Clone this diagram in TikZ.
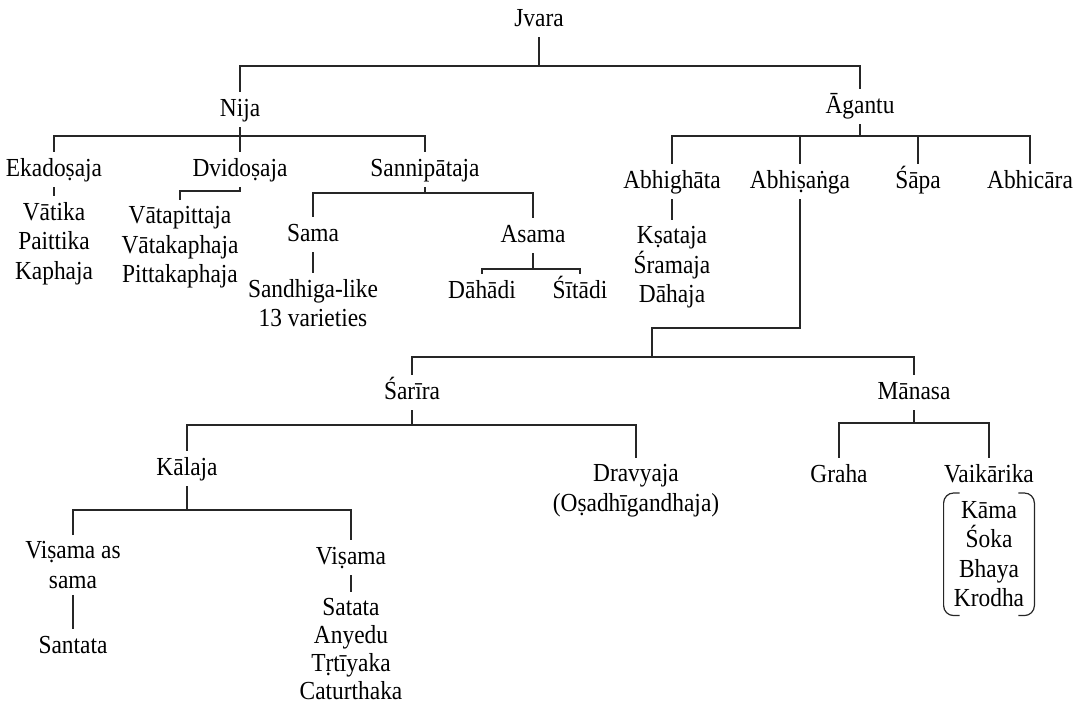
\documentclass[tikz,border=0pt]{standalone}
\usepackage{fontspec}
\setmainfont{Liberation Serif}[FakeStretch=0.9]

\begin{document}
\begin{tikzpicture}[x=0.5pt, y=-0.5pt,
  cat/.style={font=\fontsize{13}{14.75}\selectfont, anchor=base,
    inner xsep=2pt, inner ysep=0pt, text height=12pt, text depth=5.5pt},
  lst/.style={font=\fontsize{13}{14.75}\selectfont, anchor=north,
    align=center, inner sep=3pt},
  ln/.style={draw=black!85, line width=0.6pt},
]
\useasboundingbox (0,0) rectangle (1078,707);

%==== Jvara ====
\node[cat] (jvara)  at (539,26)  {Jvara};
\node[cat] (nija)   at (240,116) {Nija};
\node[cat] (agantu) at (860,113) {Āgantu};
\coordinate (j0) at (539,66);
\draw[ln] (jvara) -- (j0);
\draw[ln] (nija) |- (j0) -| (agantu);

%==== Nija ====
\node[cat] (ekadosaja)   at (54,176)  {Ekadoṣaja};
\node[cat] (dvidosaja)   at (240,176) {Dvidoṣaja};
\node[cat] (sannipataja) at (425,176) {Sannipātaja};
\coordinate (n0) at (240,136);
\draw[ln] (nija) -- (dvidosaja);
\draw[ln] (ekadosaja) |- (n0) -| (sannipataja);

\node[lst] (ekalist) at (54,196)  {Vātika\\Paittika\\Kaphaja};
\node[lst] (dvilist) at (180,200) {Vātapittaja\\Vātakaphaja\\Pittakaphaja};
\coordinate (d0) at (180,191);
\draw[ln] (ekadosaja) -- (ekalist);
\draw[ln] (dvidosaja) |- (d0) -- (dvilist);

%==== Sannipataja ====
\node[cat] (sama)  at (313,241) {Sama};
\node[cat] (asama) at (533,242) {Asama};
\coordinate (s0) at (425,193);
\draw[ln] (sannipataja) -- (s0);
\draw[ln] (sama) |- (s0) -| (asama);
\node[lst] (samalist) at (313,273) {Sandhiga-like\\13 varieties};
\draw[ln] (sama) -- (samalist);

\node[cat] (dahadi) at (482,298) {Dāhādi};
\node[cat] (sitadi) at (580,298) {Śītādi};
\coordinate (as0) at (533,269);
\draw[ln] (asama) -- (as0);
\draw[ln] (dahadi) |- (as0) -| (sitadi);

%==== Agantu ====
\node[cat] (abhighata) at (672,188)  {Abhighāta};
\node[cat] (abhisanga) at (800,188)  {Abhiṣaṅga};
\node[cat] (sapa)      at (918,188)  {Śāpa};
\node[cat] (abhicara)  at (1030,188) {Abhicāra};
\coordinate (a0) at (860,136);
\draw[ln] (agantu) -- (a0);
\draw[ln] (abhighata) |- (a0) -| (abhicara);
\draw[ln] (abhisanga) -- (abhisanga |- a0);
\draw[ln] (sapa) -- (sapa |- a0);

\node[lst] (abhilist) at (672,220) {Kṣataja\\Śramaja\\Dāhaja};
\draw[ln] (abhighata) -- (abhilist);

%==== Abhisanga ====
\node[cat] (sarira) at (412,399) {Śarīra};
\node[cat] (manasa) at (914,399) {Mānasa};
\coordinate (e1) at (800,328);
\coordinate (e2) at (652,357);
\draw[ln] (abhisanga) -- (e1) -| (e2);
\draw[ln] (sarira) |- (e2) -| (manasa);

%==== Sarira ====
\node[cat] (kalaja)   at (187,475) {Kālaja};
\node[lst] (dravyaja) at (636,458) {Dravyaja\\(Oṣadhīgandhaja)};
\coordinate (sr0) at (412,425);
\draw[ln] (sarira) -- (sr0);
\draw[ln] (kalaja) |- (sr0) -| (dravyaja);

\node[lst] (visamasama) at (73,535)  {Viṣama as\\sama};
\node[cat] (santata)    at (73,653)  {Santata};
\node[cat] (visama)     at (351,564) {Viṣama};
\coordinate (k0) at (187,510);
\draw[ln] (kalaja) -- (k0);
\draw[ln] (visamasama) |- (k0) -| (visama);
\draw[ln] (visamasama) -- (santata);

\node[lst, font=\fontsize{13}{14}\selectfont] (visamalist) at (351,592)
  {Satata\\Anyedu\\Tṛtīyaka\\Caturthaka};
\draw[ln] (visama) -- (visamalist);

%==== Manasa ====
\node[cat] (graha)     at (839,482) {Graha};
\node[cat] (vaikarika) at (989,482) {Vaikārika};
\coordinate (m0) at (914,423);
\draw[ln] (manasa) -- (m0);
\draw[ln] (graha) |- (m0) -| (vaikarika);

\node[lst, minimum width=45pt, inner ysep=4pt] (vailist) at (989,493) {Kāma\\Śoka\\Bhaya\\Krodha};
\draw[ln, rounded corners=5pt] (vailist.north west) ++(8pt,0) -- ++(-8pt,0)
  -- (vailist.south west) -- ++(8pt,0);
\draw[ln, rounded corners=5pt] (vailist.north east) ++(-8pt,0) -- ++(8pt,0)
  -- (vailist.south east) -- ++(-8pt,0);

\end{tikzpicture}
\end{document}
